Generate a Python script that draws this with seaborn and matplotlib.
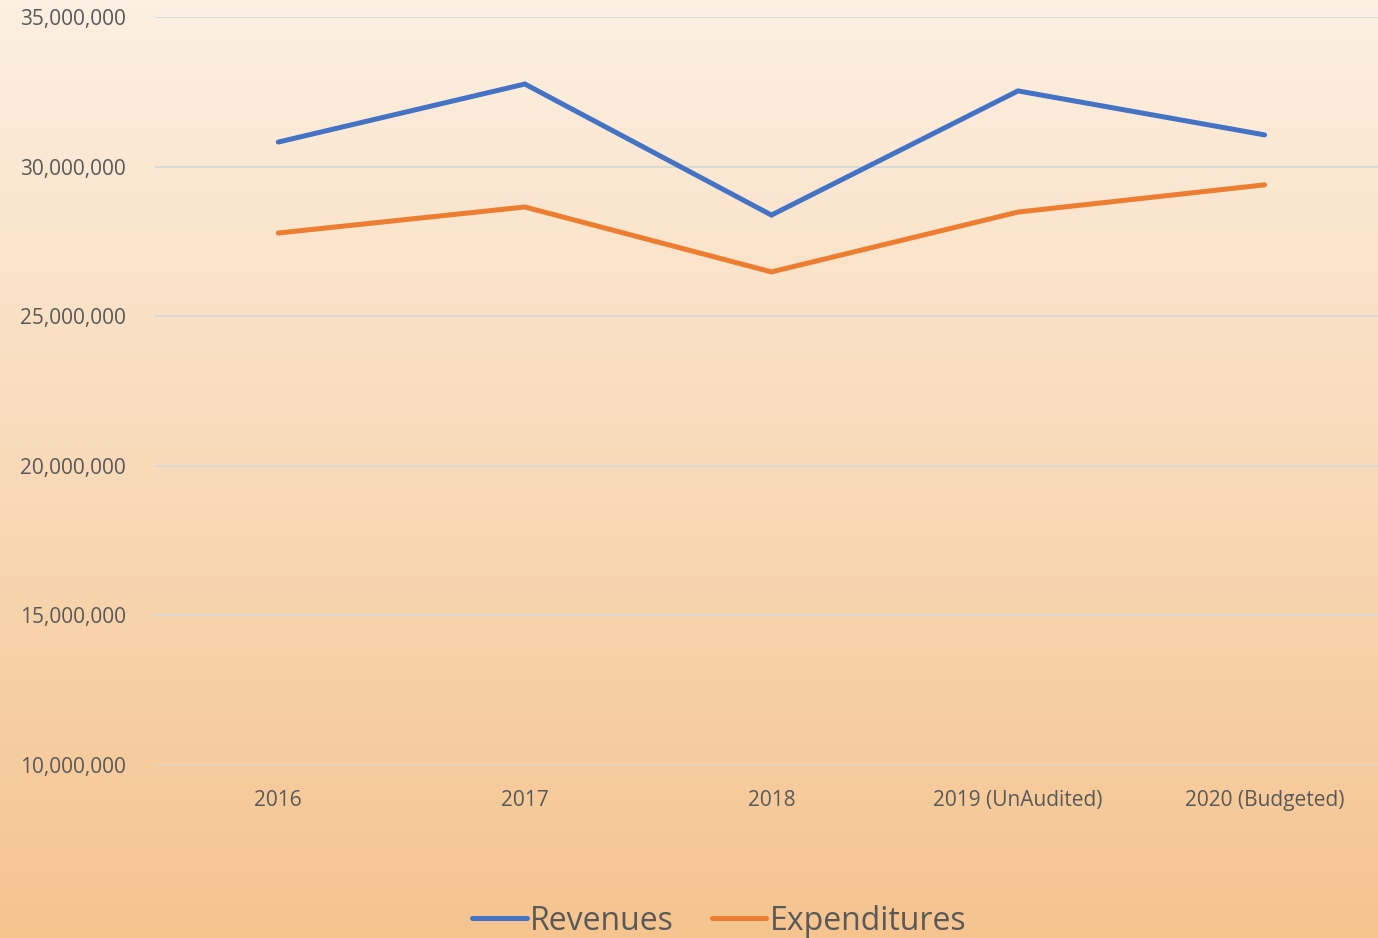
import numpy as np
import pandas as pd
import seaborn as sns
import matplotlib.pyplot as plt
from matplotlib.colors import LinearSegmentedColormap

years = ['2016', '2017', '2018', '2019 (UnAudited)', '2020 (Budgeted)']
revenues = [30820000, 32760000, 28380000, 32530000, 31060000]
expenditures = [27780000, 28650000, 26480000, 28480000, 29390000]

df = pd.DataFrame({
    'Year': years * 2,
    'Amount': revenues + expenditures,
    'Series': ['Revenues'] * 5 + ['Expenditures'] * 5,
})

sns.set_theme(style='white')
plt.rcParams['font.family'] = ['Open Sans', 'DejaVu Sans']

fig = plt.figure(figsize=(13.78, 9.38), dpi=100)

# gradient background
bg = fig.add_axes([0, 0, 1, 1], zorder=0)
cmap = LinearSegmentedColormap.from_list('bg', ['#FCF0E2', '#F5C48F'])
bg.imshow(np.linspace(0, 1, 256).reshape(-1, 1), aspect='auto', cmap=cmap,
          extent=[0, 1, 0, 1])
bg.axis('off')

ax = fig.add_axes([155/1378, 1-765/938, 1223/1378, 748/938], zorder=1)
ax.patch.set_alpha(0)
sns.lineplot(data=df, x='Year', y='Amount', hue='Series', sort=False,
             palette={'Revenues': '#4472C4', 'Expenditures': '#ED7D31'},
             linewidth=3.6, ax=ax, legend=True)
for ln in ax.lines:
    ln.set_solid_capstyle('round')
    ln.set_solid_joinstyle('miter')

ax.set_xlim(-0.5, 4.46)
ax.set_ylim(10000000, 35000000)
ax.set_yticks(range(10000000, 35000001, 5000000))
ax.yaxis.set_major_formatter(plt.FuncFormatter(lambda v, p: f'{int(v):,}'))
ax.grid(axis='y', color='#D9D9D9', linewidth=1.4)
ax.grid(axis='x', visible=False)
for s in ax.spines.values():
    s.set_visible(False)
ax.tick_params(axis='both', length=0, labelsize=15, colors='#595959')
ax.tick_params(axis='x', pad=18)
ax.tick_params(axis='y', pad=21)
ax.set_xlabel('')
ax.set_ylabel('')

h, l = ax.get_legend_handles_labels()
ax.get_legend().remove()
fig.legend(h, l, loc='center', bbox_to_anchor=(0.522, 0.018), ncol=2,
           frameon=False, fontsize=23, handlelength=1.7, handletextpad=0.1,
           columnspacing=1.2, labelcolor='#595959')

fig.savefig('out.png', dpi=100)
